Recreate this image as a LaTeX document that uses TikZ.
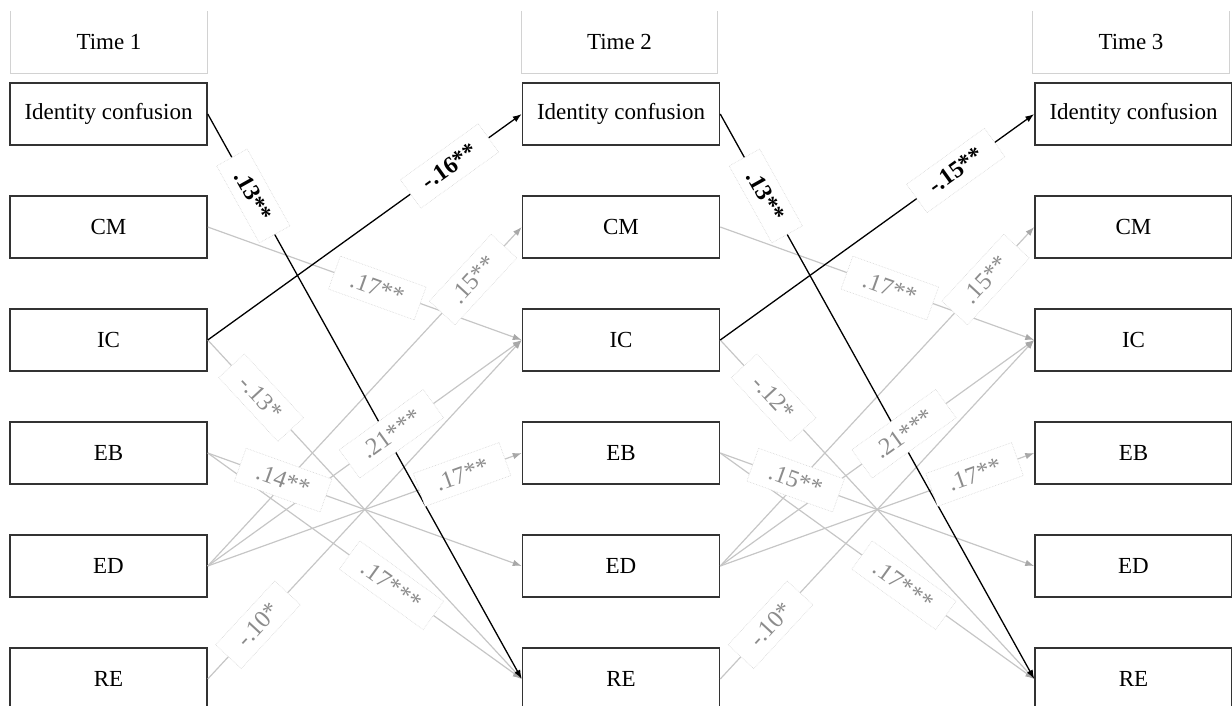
\documentclass[tikz,border=0pt]{standalone}
\usepackage{fontspec}
\setmainfont{Liberation Serif}
\usetikzlibrary{arrows.meta}
\definecolor{pathgray}{HTML}{C6C6C6}
\definecolor{tipgray}{HTML}{A8A8A8}
\definecolor{labgray}{HTML}{8C8C8C}
\definecolor{boxline}{HTML}{333333}
\definecolor{headline}{HTML}{D2D2D2}
\definecolor{tagline}{HTML}{D6D6D6}

\begin{document}
\begin{tikzpicture}[x=1pt,y=-1pt,
  var/.style={draw=boxline, line width=1.5pt, minimum width=197pt, minimum height=62pt,
    inner sep=0pt, font=\fontsize{23}{26}\selectfont},
  head/.style={minimum width=196pt, minimum height=62pt, inner sep=0pt,
    font=\fontsize{23}{26}\selectfont},
  weak/.style={draw=pathgray, line width=1.2pt, -{Latex[length=9pt,width=6.5pt,color=tipgray]}},
  strong/.style={draw=black, line width=1.3pt, -{Latex[length=9pt,width=6.5pt]}},
  tag/.style={sloped, fill=white, draw=tagline, densely dotted, line width=0.6pt,
    inner xsep=18pt, inner ysep=0pt, minimum height=35pt,
    font=\fontsize{24.5}{27}\selectfont, text=labgray},
  boldtag/.style={tag, text=black, inner xsep=17pt, font=\fontsize{24}{26}\selectfont\bfseries},
]
\useasboundingbox (0,0) rectangle (1232,705);

% wave headers
\node[head] (h1) at (109,42) {Time 1};
\node[head] (h2) at (619.5,42) {Time 2};
\node[head] (h3) at (1131,42) {Time 3};
\foreach \h in {h1,h2,h3}
  \draw[headline, line width=1pt] (\h.north west) -- (\h.south west) -- (\h.south east) -- (\h.north east);

% measured variables at each wave
\foreach \c/\x in {1/108.5, 2/621, 3/1133.5} {
  \node[var] (id\c) at (\x,114) {Identity confusion};
  \node[var] (cm\c) at (\x,227) {CM};
  \node[var] (ic\c) at (\x,340) {IC};
  \node[var] (eb\c) at (\x,453) {EB};
  \node[var] (ed\c) at (\x,566) {ED};
  \node[var] (re\c) at (\x,679) {RE};
}

% cross-lagged paths
\foreach \a/\b in {1/2, 2/3} {
  \draw[weak] (cm\a.east) -- (ic\b.west);
  \draw[weak] (ed\a.east) -- (cm\b.west);
  \draw[weak] (ic\a.east) -- (re\b.west);
  \draw[weak] (eb\a.east) -- (ed\b.west);
  \draw[weak] (eb\a.east) -- (re\b.west);
  \draw[weak] (ed\a.east) -- (ic\b.west);
  \draw[weak] (ed\a.east) -- (eb\b.west);
  \draw[weak] (re\a.east) -- (ic\b.west);
  \draw[strong] (id\a.east) -- (re\b.west);
  \draw[strong] (ic\a.east) -- (id\b.west);
}

% path coefficients
\foreach \a/\b/\ci/\pi/\cr/\ce in {1/2/-.16**/0.77/-.13*/.14**, 2/3/-.15**/0.75/-.12*/.15**} {
  \path (id\a.east) -- (re\b.west) node[boldtag, pos=0.145] {.13**};
  \path (ic\a.east) -- (id\b.west) node[boldtag, pos=\pi] {\ci};
  \path (cm\a.east) -- (ic\b.west) node[tag, pos=0.54] {.17**};
  \path (ed\a.east) -- (cm\b.west) node[tag, pos=0.845] {.15**};
  \path (ic\a.east) -- (re\b.west) node[tag, pos=0.17] {\cr};
  \path (eb\a.east) -- (ed\b.west) node[tag, pos=0.24] {\ce};
  \path (eb\a.east) -- (re\b.west) node[tag, pos=0.585] {.17***};
  \path (ed\a.east) -- (ic\b.west) node[tag, pos=0.585] {.21***};
  \path (ed\a.east) -- (eb\b.west) node[tag, pos=0.81] {.17**};
  \path (re\a.east) -- (ic\b.west) node[tag, pos=0.16] {-.10*};
}
\end{tikzpicture}
\end{document}
